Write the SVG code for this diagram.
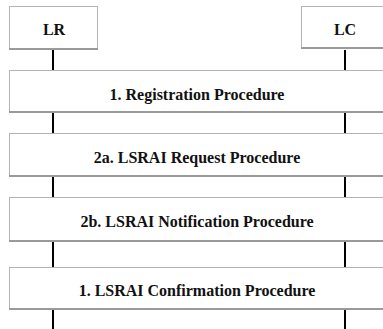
<svg xmlns="http://www.w3.org/2000/svg" width="383" height="329" viewBox="0 0 383 329">
<style>
.box{fill:#fff;stroke:#b4b4b4;stroke-width:1}
.sh{stroke:#9a9a9a;stroke-width:2}
.life{stroke:#000;stroke-width:2}
text{font-family:"Liberation Serif","Times New Roman",serif;font-weight:bold;font-size:16px;fill:#111;text-anchor:middle}
</style>
<g id="connectors">
<line class="life" x1="53" y1="50" x2="53" y2="71"/>
<line class="life" x1="345" y1="50" x2="345" y2="71"/>
<line class="life" x1="53" y1="113" x2="53" y2="134"/>
<line class="life" x1="345" y1="113" x2="345" y2="134"/>
<line class="life" x1="53" y1="177" x2="53" y2="198"/>
<line class="life" x1="345" y1="177" x2="345" y2="198"/>
<line class="life" x1="53" y1="242" x2="53" y2="268"/>
<line class="life" x1="345" y1="242" x2="345" y2="268"/>
<line class="life" x1="53" y1="310" x2="53" y2="329"/>
<line class="life" x1="345" y1="310" x2="345" y2="329"/>
</g>
<g id="LR">
<rect class="box" x="9.5" y="6.5" width="88" height="43"/>
<line class="sh" x1="9" y1="49" x2="98" y2="49"/>
<text x="54" y="35">LR</text>
</g>
<g id="LC">
<rect class="box" x="301.5" y="6.5" width="90" height="42"/>
<line class="sh" x1="301" y1="48" x2="383" y2="48"/>
<text x="345" y="35">LC</text>
</g>
<g id="registration">
<rect class="box" x="9.5" y="70.5" width="380" height="42"/>
<line class="sh" x1="9" y1="112" x2="383" y2="112"/>
<text x="197" y="100">1. Registration Procedure</text>
</g>
<g id="request">
<rect class="box" x="9.5" y="133.5" width="380" height="43"/>
<line class="sh" x1="9" y1="176" x2="383" y2="176"/>
<text x="197" y="163">2a. LSRAI Request Procedure</text>
</g>
<g id="notification">
<rect class="box" x="9.5" y="197.5" width="380" height="44"/>
<line class="sh" x1="9" y1="241" x2="383" y2="241"/>
<text x="197" y="227">2b. LSRAI Notification Procedure</text>
</g>
<g id="confirmation">
<rect class="box" x="9.5" y="267.5" width="380" height="42"/>
<line class="sh" x1="9" y1="309" x2="383" y2="309"/>
<text x="197" y="296">1. LSRAI Confirmation Procedure</text>
</g>
</svg>
